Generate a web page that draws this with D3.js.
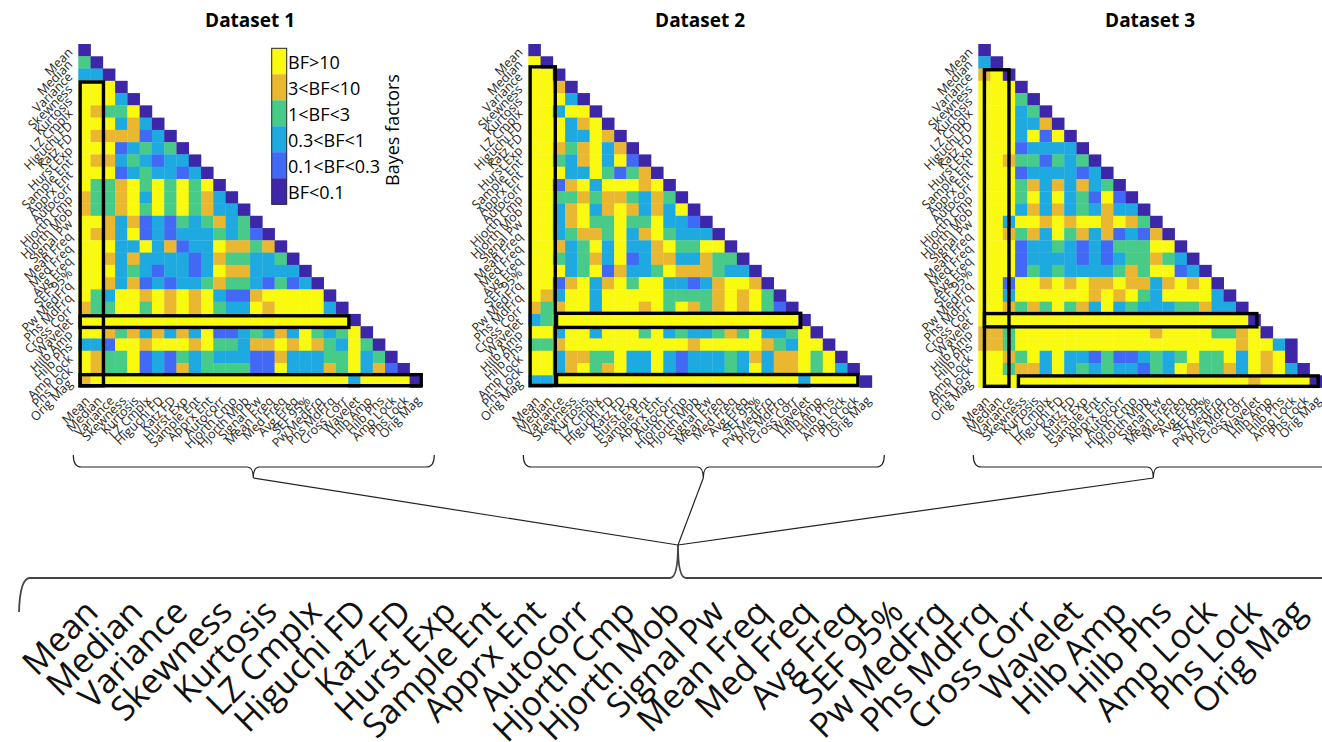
<!DOCTYPE html>
<html>
<head>
<meta charset="utf-8">
<script src="https://cdn.jsdelivr.net/npm/d3@7"></script>
<style>
body { margin: 0; background: #fff; }
svg text { font-family: "Open Sans", sans-serif; }
</style>
</head>
<body>
<script>

var features = ["Mean", "Median", "Variance", "Skewness", "Kurtosis", "LZ Cmplx", "Higuchi FD", "Katz FD",
    "Hurst Exp", "Sample Ent", "Apprx Ent", "Autocorr", "Hjorth Cmp", "Hjorth Mob", "Signal Pw", "Mean Freq",
    "Med Freq", "Avg Freq", "SEF 95%", "Pw MedFrq", "Phs MdFrq", "Cross Corr", "Wavelet", "Hilb Amp",
    "Hilb Phs", "Amp Lock", "Phs Lock", "Orig Mag"];

// Bayes factor classes, index = level used in the rows below
var bfLabels = ["BF<0.1", "0.1<BF<0.3", "0.3<BF<1", "1<BF<3", "3<BF<10", "BF>10"];
var bfColors = ["#3e26a8", "#4268f6", "#1eaae0", "#48ca88", "#e9b830", "#f9fa10"];

var panelTitles = ["Dataset 1", "Dataset 2", "Dataset 3"];

// lower triangle, one string per row, one digit (level) per column
var dataset1 = [
    "0", "30", "220", "5550", "55520", "543350", "5552420", "54444120", "555123230", "5442321220",
    "55512322120", "533453535350", "4334525353420", "43345353534220", "554241213234230",
    "5442512122232310", "55522524122544340", "554242222124332230", "5552321221254422220",
    "55424121223433213120", "532554545452114555550", "4335535454532254555520",
    "55555555555555555555550", "554342424251123242532350", "2215545554533244545432530",
    "54335121323222114222335230", "543351214233331152224352410", "4555555555555555555555255550"
];
var dataset2 = [
    "0", "50", "550", "5540", "55520", "552550", "5552450", "55522540", "554345240", "5532452510",
    "55522531340", "551452555450", "5533434432430", "55245245424250", "552453353352210",
    "5523443524532220", "55423525224533550", "553234251244224330", "5552351422354443220",
    "55145245355221245540", "542552555553333454530", "4345525554535434545310",
    "23555555555555555555550", "552552555352322343522350", "3345555555555455555432550",
    "55244335225212223242445350", "552453452252122232524453520", "2255555555555555555555255550"
];
var dataset3 = [
    "0", "20", "450", "5550", "55530", "555230", "5552240", "55525150", "555122220", "5543313230",
    "55512222120", "555342424230", "5553525231510", "55524242324220", "552554545545430",
    "5543425342412140", "55512232121333550", "555122221212334320", "5551323222234355120",
    "55155454544544245450", "552555555454532555520", "5543435342523222334220",
    "55555555555555555555550", "443555555555554555533450", "4435555555555555555554552" + "0",
    "55435252213112323533525450", "553442523232213254334254520", "5555555555555555555555455550"
];

// highlight boxes [col0, row0, col1, row1] in cell units
var boxes1 = [[0.15, 3.1, 2.05, 27.85], [0.15, 22.15, 22.05, 23.1], [0.15, 26.95, 27.95, 27.85]];
var boxes2 = [[0.15, 1.86, 2.2, 27.83], [2.3, 21.95, 22.2, 23.1], [2.3, 26.94, 26.86, 27.83]];
var boxes3 = [[0.5, 2.1, 2.5, 27.9], [0.5, 21.97, 22.7, 23.05], [3.27, 27.05, 27.7, 27.9]];

var datasets = [dataset1, dataset2, dataset3];
var boxSets = [boxes1, boxes2, boxes3];

var width = 1322, height = 742;
var cell = 12.27;
var n = features.length;
var side = n * cell;
var panelLeft = [78.3, 528.3, 978.3];
var panelTop = 44;

var svg = d3.select("body").append("svg")
    .attr("width", width)
    .attr("height", height);

var color = d3.scaleOrdinal().domain(d3.range(6)).range(bfColors);

function drawPanel(k) {
    var rows = datasets[k].map(function(s) { return s.split("").map(Number); });
    var g = svg.append("g").attr("transform", "translate(" + panelLeft[k] + "," + panelTop + ")");

    var x = d3.scaleBand().domain(d3.range(n)).range([0, side]);
    var y = d3.scaleBand().domain(d3.range(n)).range([0, side]);
    var pos = d3.scaleLinear().domain([0, n]).range([0, side]);

    var cells = [];
    rows.forEach(function(row, r) {
        row.forEach(function(v, c) { cells.push({r: r, c: c, v: v}); });
    });

    g.selectAll("rect.cell").data(cells).enter().append("rect")
        .attr("class", "cell")
        .attr("x", function(d) { return x(d.c); })
        .attr("y", function(d) { return y(d.r); })
        .attr("width", x.bandwidth() + 0.3)
        .attr("height", y.bandwidth() + 0.3)
        .style("fill", function(d) { return color(d.v); });

    g.selectAll("rect.box").data(boxSets[k]).enter().append("rect")
        .attr("class", "box")
        .attr("x", function(d) { return pos(d[0]); })
        .attr("y", function(d) { return pos(d[1]); })
        .attr("width", function(d) { return pos(d[2]) - pos(d[0]); })
        .attr("height", function(d) { return pos(d[3]) - pos(d[1]); })
        .style("fill", "none")
        .style("stroke", "#000")
        .style("stroke-width", 3.4);

    // y tick labels
    g.selectAll("text.ylab").data(features).enter().append("text")
        .attr("class", "ylab")
        .attr("transform", function(d, i) {
            return "translate(-5," + (y(i) + cell / 2 + 3) + ") rotate(-45)";
        })
        .attr("text-anchor", "end")
        .style("font-size", "12.5px")
        .style("fill", "#262626")
        .text(function(d) { return d; });

    // x tick labels
    g.selectAll("text.xlab").data(features).enter().append("text")
        .attr("class", "xlab")
        .attr("transform", function(d, i) {
            return "translate(" + (x(i) + cell / 2 + 6) + "," + (side + 14) + ") rotate(-45)";
        })
        .attr("text-anchor", "end")
        .style("font-size", "12.5px")
        .style("fill", "#262626")
        .text(function(d) { return d; });

    svg.append("text")
        .attr("x", panelLeft[k] + side / 2)
        .attr("y", 27)
        .attr("text-anchor", "middle")
        .style("font-size", "19px")
        .style("font-weight", "bold")
        .style("fill", "#000")
        .text(panelTitles[k]);

    // brace under the panel
    var xl = panelLeft[k] - 5, xr = panelLeft[k] + 356, xm = panelLeft[k] + 175;
    var yt = 455, yl = 467, yb = 478;
    svg.append("path")
        .attr("d", "M" + xl + "," + yt + " Q" + xl + "," + yl + " " + (xl + 8) + "," + yl +
            " L" + (xm - 6) + "," + yl + " Q" + xm + "," + yl + " " + xm + "," + yb +
            " Q" + xm + "," + yl + " " + (xm + 6) + "," + yl +
            " L" + (xr - 8) + "," + yl + " Q" + xr + "," + yl + " " + xr + "," + yt)
        .style("fill", "none")
        .style("stroke", "#222")
        .style("stroke-width", 1.2);

    svg.append("line")
        .attr("x1", xm).attr("y1", yb)
        .attr("x2", 678).attr("y2", 545)
        .style("stroke", "#222")
        .style("stroke-width", 1.2);
}

d3.range(3).forEach(drawPanel);

// colorbar legend on the first panel
var legY = d3.scaleBand().domain(d3.range(5, -1, -1)).range([48.3, 204.3]);
var legend = svg.append("g");
legend.selectAll("rect").data(d3.range(5, -1, -1)).enter().append("rect")
    .attr("x", 271.7)
    .attr("y", function(d) { return legY(d); })
    .attr("width", 15)
    .attr("height", legY.bandwidth() + 0.3)
    .style("fill", function(d) { return color(d); });
legend.append("rect")
    .attr("x", 271.7).attr("y", 48.3)
    .attr("width", 15).attr("height", 156)
    .style("fill", "none")
    .style("stroke", "#262626")
    .style("stroke-width", 1);
legend.selectAll("text").data(d3.range(5, -1, -1)).enter().append("text")
    .attr("x", 288)
    .attr("y", function(d) { return legY(d) + legY.bandwidth() / 2 + 8; })
    .style("font-size", "18px")
    .style("fill", "#000")
    .text(function(d) { return bfLabels[d]; });
svg.append("text")
    .attr("transform", "translate(399,130) rotate(-90)")
    .attr("text-anchor", "middle")
    .style("font-size", "18px")
    .style("fill", "#000")
    .text("Bayes factors");

// big brace joining the three panels
svg.append("path")
    .attr("d", "M19,612 Q20,578 30,578 L670,578 Q678,578 678,545 Q678,578 686,578 L1340,578")
    .style("fill", "none")
    .style("stroke", "#444")
    .style("stroke-width", 1.8);

// big feature labels
var bigX = d3.scalePoint().domain(features).range([100, 1308]);
svg.selectAll("text.big").data(features).enter().append("text")
    .attr("class", "big")
    .attr("transform", function(d) { return "translate(" + bigX(d) + ",614) rotate(-45)"; })
    .attr("text-anchor", "end")
    .style("font-size", "34px")
    .style("fill", "#111")
    .text(function(d) { return d; });

</script>
</body>
</html>
